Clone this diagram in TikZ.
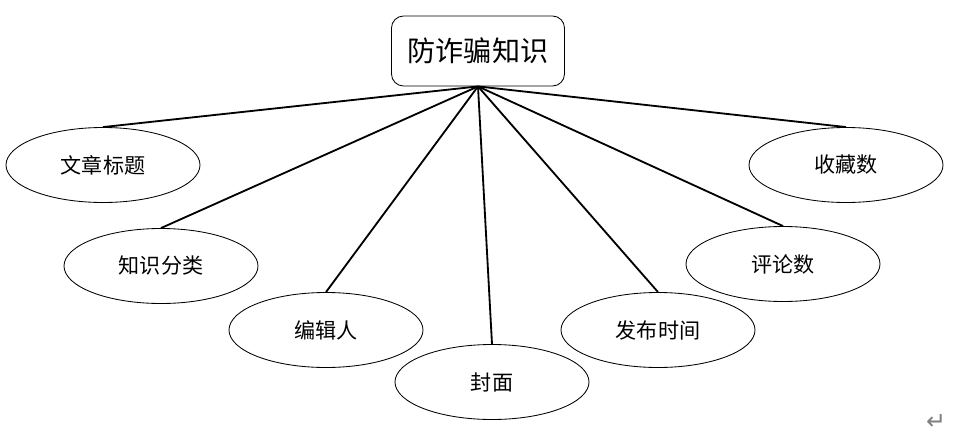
\documentclass[tikz,border=0pt]{standalone}
\usepackage{fontspec}
\setmainfont{Noto Sans CJK SC}
\newfontfamily\symfont{DejaVu Sans}
\usetikzlibrary{shapes.geometric}

\tikzset{
	entity/.style={draw, rounded corners=0.3cm, line width=0.6pt, minimum width=4.325cm, minimum height=1.75cm, font=\fontsize{20}{24}\selectfont},
	attr/.style={draw, ellipse, line width=0.6pt, minimum width=4.85cm, minimum height=1.875cm, inner sep=0pt, font=\fontsize{15}{18}\selectfont},
	link/.style={line width=1.3pt}
}

\begin{document}
\begin{tikzpicture}
	\useasboundingbox (0,0) rectangle (24.45,11.1);
	\node[entity] (know) at (11.95,9.825) {防诈骗知识};

	\node[attr] (title) at (2.575,6.975) {文章标题};
	\node[attr] (kind) at (4.025,4.45) {知识分类};
	\node[attr] (editor) at (8.15,2.85) {编辑人};
	\node[attr] (cover) at (12.3,1.55) {封面};
	\node[attr] (time) at (16.45,2.85) {发布时间};
	\node[attr] (comment) at (19.575,4.5) {评论数};
	\node[attr] (fav) at (21.15,6.975) {收藏数};

	\draw[link] (know.south) -- (title.north);
	\draw[link] (know.south) -- (kind.north);
	\draw[link] (know.south) -- (editor.north);
	\draw[link] (know.south) -- (cover.north);
	\draw[link] (know.south) -- (time.north);
	\draw[link] (know.south) -- (comment.north);
	\draw[link] (know.south) -- (fav.north);

	\node[text=gray, font=\symfont\fontsize{17}{18}\selectfont] (mark) at (23.4,0.55) {↵};
\end{tikzpicture}
\end{document}
